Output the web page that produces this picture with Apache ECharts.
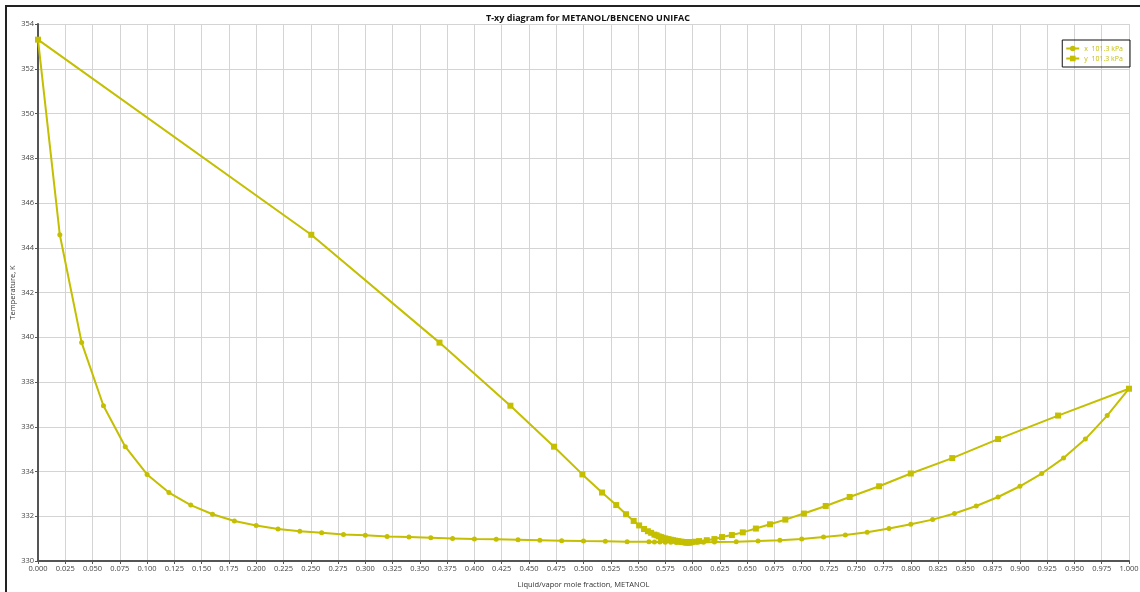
<!DOCTYPE html>
<html>
<head>
<meta charset="utf-8">
<script src="https://cdn.jsdelivr.net/npm/echarts@6/dist/echarts.min.js"></script>
<style>
html,body{margin:0;padding:0;background:#fff;overflow:hidden;}
#frame{position:absolute;left:5px;top:5px;width:1200px;height:700px;border-left:2px solid #222;border-top:2px solid #222;box-sizing:border-box;}
#chart{position:absolute;left:0;top:0;width:1140px;height:592px;}
</style>
</head>
<body>
<div id="frame"></div>
<div id="chart"></div>
<script>
// Liquid mole fraction of METANOL
const liquidX = [0, 0.02, 0.04, 0.06, 0.08, 0.10, 0.12, 0.14, 0.16, 0.18, 0.20, 0.22, 0.24, 0.26, 0.28, 0.30,
  0.32, 0.34, 0.36, 0.38, 0.40, 0.42, 0.44, 0.46, 0.48, 0.50, 0.52, 0.54, 0.56,
  0.565, 0.57, 0.575, 0.58, 0.585, 0.59, 0.595, 0.60, 0.605, 0.61,
  0.62, 0.64, 0.66, 0.68, 0.70, 0.72, 0.74, 0.76, 0.78, 0.80, 0.82, 0.84, 0.86, 0.88, 0.90,
  0.92, 0.94, 0.96, 0.98, 1.00];
// Vapor mole fraction of METANOL (same temperatures)
const vaporY = [0, 0.2505, 0.368, 0.433, 0.473, 0.499, 0.517, 0.530, 0.539, 0.546, 0.551, 0.5555, 0.559, 0.562, 0.565, 0.567,
  0.569, 0.571, 0.573, 0.575, 0.577, 0.578, 0.580, 0.582, 0.584, 0.586, 0.587, 0.589, 0.590,
  0.591, 0.592, 0.593, 0.594, 0.5945, 0.595, 0.596, 0.597, 0.5975, 0.598,
  0.599, 0.602, 0.606, 0.613, 0.620, 0.627, 0.636, 0.646, 0.658, 0.671, 0.685, 0.702, 0.722, 0.744, 0.771,
  0.800, 0.838, 0.880, 0.935, 1.00];
// Temperature, K
const tempK = [353.3, 344.58, 339.76, 336.94, 335.11, 333.87, 333.06, 332.50, 332.09, 331.79, 331.59, 331.43, 331.33, 331.26, 331.18, 331.15,
  331.10, 331.07, 331.04, 331.01, 330.98, 330.97, 330.95, 330.93, 330.91, 330.89, 330.88, 330.86, 330.86,
  330.85, 330.845, 330.84, 330.835, 330.83, 330.83, 330.83, 330.83, 330.835, 330.84,
  330.845, 330.86, 330.89, 330.93, 330.98, 331.07, 331.16, 331.28, 331.45, 331.64, 331.85, 332.12, 332.46, 332.86, 333.34,
  333.91, 334.60, 335.45, 336.50, 337.70];
const seriesNames = ['x  101.3 kPa', 'y  101.3 kPa'];
const titleText = 'T-xy diagram for METANOL/BENCENO UNIFAC';
const xAxisName = 'Liquid/vapor mole fraction, METANOL';
const yAxisName = 'Temperature, K';

const color = '#c4bf00';
const font = '"Open Sans", "Noto Sans", sans-serif';
const liquidData = liquidX.map((v, i) => [v, tempK[i]]);
const vaporData = vaporY.map((v, i) => [v, tempK[i]]);

const chart = echarts.init(document.getElementById('chart'), null, {renderer: 'canvas'});
chart.setOption({
  animation: false,
  backgroundColor: 'transparent',
  textStyle: {fontFamily: font},
  title: {
    text: titleText, left: 583, top: 9, textAlign: 'center',
    textStyle: {fontSize: 9, fontWeight: 'bold', color: '#111', fontFamily: font}
  },
  legend: {
    right: 10, top: 40, orient: 'vertical', itemGap: 3, itemWidth: 13, itemHeight: 7,
    borderColor: '#111', borderWidth: 1, padding: [5, 7, 5, 3],
    textStyle: {fontSize: 7, color: color, fontFamily: font},
    data: seriesNames
  },
  grid: {left: 38, right: 11, top: 24, bottom: 31, containLabel: false, outerBoundsMode: 'none'},
  xAxis: {
    type: 'value', min: 0, max: 1, interval: 0.025,
    name: xAxisName, nameLocation: 'middle', nameGap: 20, nameMoveOverlap: false,
    nameTextStyle: {fontSize: 7.5, color: '#333', fontFamily: font},
    axisLine: {show: true, onZero: false, lineStyle: {color: '#555', width: 2}},
    axisTick: {show: true, length: 3, lineStyle: {color: '#555'}},
    axisLabel: {fontSize: 7.5, color: '#444', margin: 4, formatter: v => v.toFixed(3), fontFamily: font},
    splitLine: {show: true, lineStyle: {color: '#d4d4d4', width: 1}}
  },
  yAxis: {
    type: 'value', min: 330, max: 354, interval: 2,
    name: yAxisName, nameLocation: 'middle', nameGap: 21, nameMoveOverlap: false,
    nameTextStyle: {fontSize: 7.5, color: '#333', fontFamily: font},
    axisLine: {show: true, onZero: false, lineStyle: {color: '#555', width: 2}},
    axisTick: {show: true, length: 3, lineStyle: {color: '#555'}},
    axisLabel: {fontSize: 7.5, color: '#444', margin: 4, fontFamily: font},
    splitLine: {show: true, lineStyle: {color: '#d4d4d4', width: 1}}
  },
  series: [
    {
      name: seriesNames[0], type: 'line', data: liquidData,
      symbol: 'circle', symbolSize: 5, showAllSymbol: true,
      lineStyle: {color: color, width: 2}, itemStyle: {color: color}
    },
    {
      name: seriesNames[1], type: 'line', data: vaporData,
      symbol: 'rect', symbolSize: 6, showAllSymbol: true,
      lineStyle: {color: color, width: 2}, itemStyle: {color: color}
    }
  ]
});
</script>
</body>
</html>
